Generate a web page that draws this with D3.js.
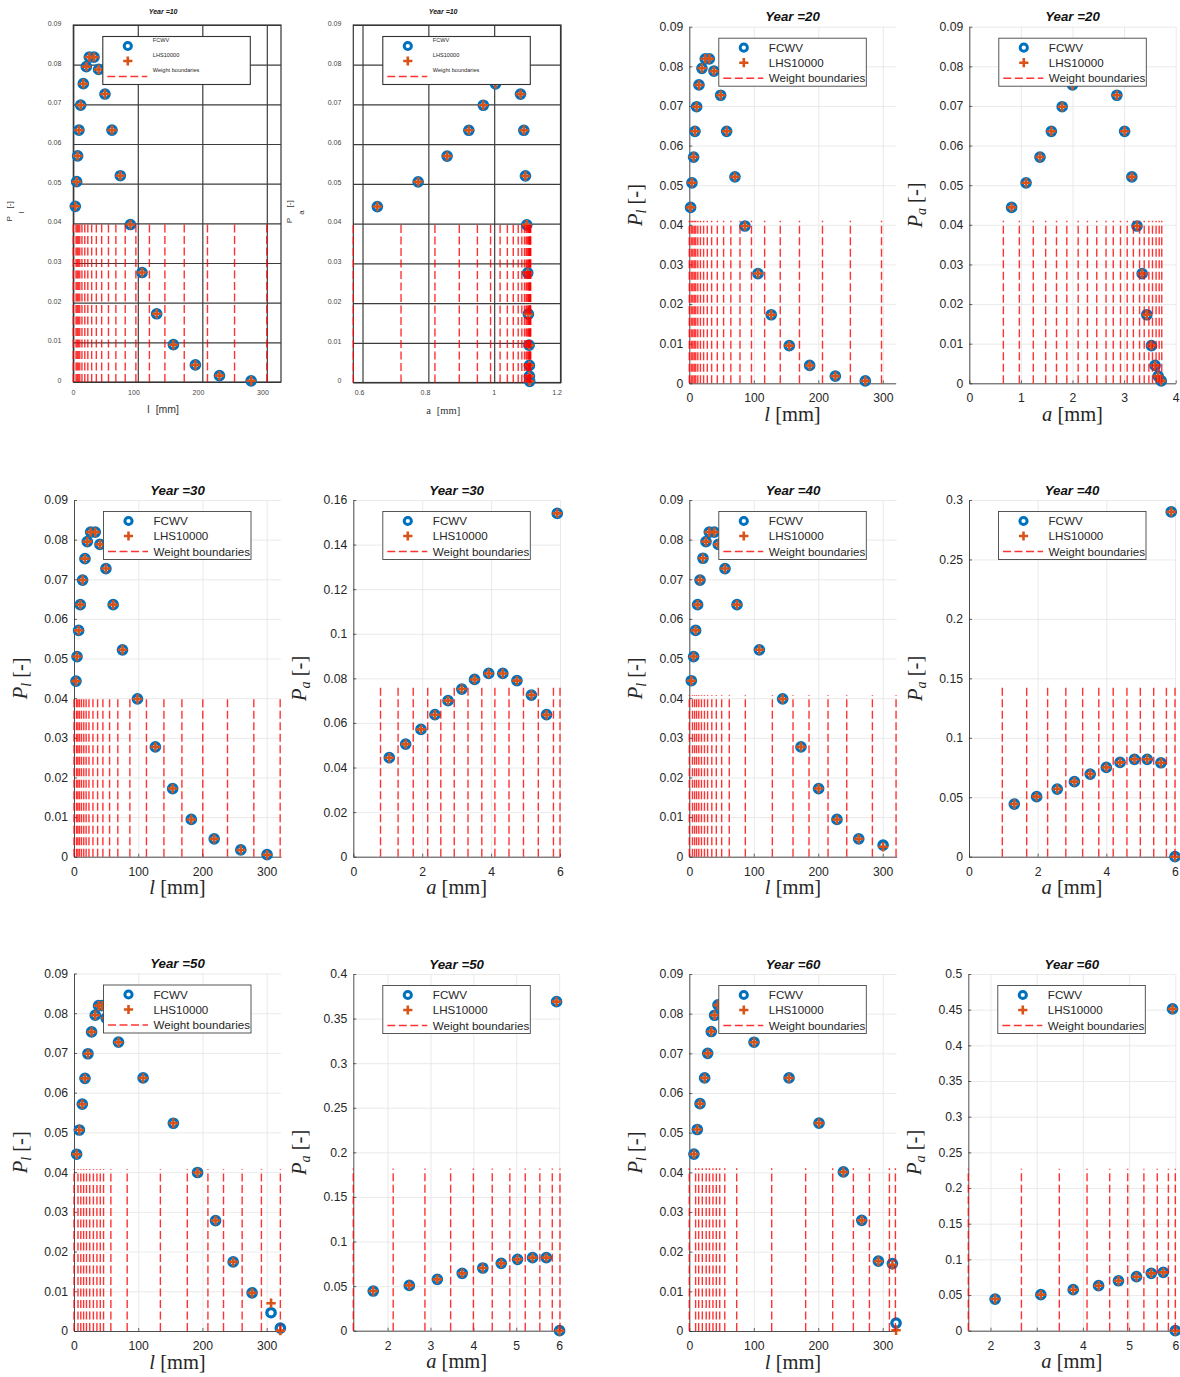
<!DOCTYPE html>
<html>
<head>
<meta charset="utf-8">
<script src="https://cdn.jsdelivr.net/npm/d3@7"></script>
<style>
  body { margin: 0; background: #fff; }
  svg { display: block; }
</style>
</head>
<body>
<div id="chart"></div>
<script>
// ---- values ----
const seriesNames = ["FCWV", "LHS10000", "Weight boundaries"];

// tick labels
const lTicks = [0, 100, 200, 300];
const pTicks = [0, 0.01, 0.02, 0.03, 0.04, 0.05, 0.06, 0.07, 0.08, 0.09];
const a10Ticks = [0.6, 0.8, 1, 1.2];
const a20Ticks = [0, 1, 2, 3, 4];
const a30Ticks = [0, 2, 4, 6];
const a50Ticks = [2, 3, 4, 5, 6];
const pa30Ticks = [0, 0.02, 0.04, 0.06, 0.08, 0.1, 0.12, 0.14, 0.16];
const pa40Ticks = [0, 0.05, 0.1, 0.15, 0.2, 0.25, 0.3];
const pa50Ticks = [0, 0.05, 0.1, 0.15, 0.2, 0.25, 0.3, 0.35, 0.4];
const pa60Ticks = [0, 0.05, 0.1, 0.15, 0.2, 0.25, 0.3, 0.35, 0.4, 0.45, 0.5];

// Year 10
const l10 = [3.1, 5.2, 6.7, 8.8, 11.4, 15.5, 20.2, 24.8, 32.1, 39.3, 49.1, 60, 72.9, 88.5, 106.6, 129.3, 155.2, 189.3, 226.6, 275.7];
const pl10 = [0.0443, 0.0505, 0.057, 0.0635, 0.0698, 0.0752, 0.0795, 0.0819, 0.0819, 0.0788, 0.0726, 0.0635, 0.052, 0.0397, 0.0276, 0.0172, 0.0094, 0.0043, 0.0016, 0.0003];
const a10 = [0.645, 0.769, 0.857, 0.923, 0.967, 1.004, 1.025, 1.045, 1.06, 1.072, 1.08, 1.09, 1.095, 1.099, 1.102, 1.104, 1.106, 1.107, 1.107, 1.108];
const pa10 = [0.0443, 0.0505, 0.057, 0.0635, 0.0698, 0.0752, 0.0795, 0.0819, 0.0819, 0.0788, 0.0726, 0.0635, 0.052, 0.0397, 0.0276, 0.0172, 0.0094, 0.0043, 0.0016, 0.0003];
const lBounds10 = [0, 4.2, 6, 7.7, 10, 13.4, 17.8, 22.5, 28.5, 35.7, 44, 54.5, 66, 80.5, 97, 118, 142, 172, 208, 250, 300];
const aBounds10 = [0.572, 0.717, 0.82, 0.894, 0.949, 0.989, 1.018, 1.04, 1.058, 1.073, 1.084, 1.092, 1.097, 1.1, 1.103, 1.105, 1.107, 1.108, 1.109, 1.11, 1.111];

// Year 20
const l20 = [2, 4.1, 6.7, 8.8, 11.4, 15, 19.6, 24.8, 31, 38.2, 48.6, 57.9, 70.8, 86.3, 106.5, 127, 155, 186.6, 226.4, 272.9];
const pl20 = [0.0444, 0.0506, 0.0571, 0.0636, 0.0698, 0.0753, 0.0795, 0.0819, 0.0819, 0.0788, 0.0727, 0.0636, 0.0521, 0.0397, 0.0277, 0.0173, 0.0095, 0.0045, 0.0018, 0.0006];
const a20 = [0.82, 1.1, 1.37, 1.59, 1.8, 2.0, 2.2, 2.38, 2.56, 2.72, 2.86, 3.01, 3.15, 3.25, 3.35, 3.44, 3.53, 3.6, 3.66, 3.72];
const pa20 = [0.0444, 0.0506, 0.0571, 0.0636, 0.0698, 0.0753, 0.0795, 0.0819, 0.0819, 0.0788, 0.0727, 0.0636, 0.0521, 0.0397, 0.0277, 0.0173, 0.0095, 0.0045, 0.0018, 0.0006];
const lBounds20 = [0, 3, 5.4, 7.7, 10, 13.2, 17.3, 22.2, 27.9, 34.6, 43.4, 53.2, 64.4, 78.6, 96.4, 116.8, 141, 170.8, 206.5, 249.7, 298];
const aBounds20 = [0.66, 0.97, 1.24, 1.48, 1.69, 1.89, 2.11, 2.29, 2.47, 2.65, 2.79, 2.93, 3.06, 3.18, 3.3, 3.39, 3.48, 3.55, 3.62, 3.68, 3.73];

// Year 30
const l30 = [3.1, 4.7, 7.2, 9.8, 13.4, 17.1, 20.7, 25.9, 33.1, 40.4, 49.7, 61, 75.5, 98.8, 126.7, 153.6, 182.6, 218.3, 259.7, 300.6];
const pl30 = [0.0443, 0.0505, 0.0571, 0.0636, 0.0698, 0.0752, 0.0795, 0.0819, 0.0819, 0.0788, 0.0727, 0.0636, 0.0522, 0.0398, 0.0277, 0.0172, 0.0094, 0.0045, 0.0017, 0.0005];
const a30 = [1.045, 1.52, 1.965, 2.37, 2.75, 3.15, 3.52, 3.93, 4.34, 4.75, 5.17, 5.61, 5.92];
const pa30 = [0.0444, 0.0505, 0.0571, 0.0637, 0.07, 0.0752, 0.0795, 0.0822, 0.0822, 0.079, 0.0725, 0.0637, 0.154];
const lBounds30 = [0, 3.9, 6, 8.5, 11.6, 15.2, 18.9, 23.3, 29.5, 36.8, 45, 55.4, 68.2, 87, 112.8, 140, 168, 200.5, 239, 280, 321];
const aBounds30 = [0.79, 1.3, 1.74, 2.16, 2.54, 2.93, 3.33, 3.73, 4.11, 4.52, 4.94, 5.37, 5.81, 6.0];

// Year 40
const l40 = [3.1, 6.7, 9.8, 12.9, 16.6, 21.2, 25.9, 31, 38.8, 45, 55.4, 74, 108.6, 144.8, 173.2, 200.6, 229, 262.8, 300.6];
const pl40 = [0.0444, 0.0505, 0.0571, 0.0636, 0.0698, 0.0753, 0.0795, 0.0819, 0.0819, 0.0788, 0.0727, 0.0636, 0.0522, 0.0398, 0.0277, 0.0172, 0.0094, 0.0045, 0.0029];
const plLhs40 = [0.0444, 0.0505, 0.0571, 0.0636, 0.0698, 0.0753, 0.0795, 0.0819, 0.0819, 0.0788, 0.0727, 0.0636, 0.0522, 0.0398, 0.0277, 0.0172, 0.0094, 0.0045, 0.0025];
const a40 = [1.32, 1.97, 2.57, 3.07, 3.53, 4.0, 4.4, 4.82, 5.19, 5.59, 5.89, 6.0];
const pa40 = [0.0443, 0.0505, 0.0569, 0.0631, 0.0695, 0.0751, 0.0793, 0.0819, 0.0819, 0.079, 0.29, 0];
const lBounds40 = [0, 4.9, 8.2, 11.3, 14.7, 18.9, 23.5, 28.4, 34.9, 41.9, 50.2, 62, 86.9, 128.8, 160.9, 185.7, 215.2, 244.2, 284, 320.7];
const aBounds40 = [0.97, 1.68, 2.29, 2.82, 3.31, 3.78, 4.2, 4.6, 4.99, 5.38, 5.75, 6.0];

// Year 50
const l50 = [4.1, 8.3, 12.9, 17.1, 21.7, 27.4, 33.1, 38.3, 43.5, 50, 69.3, 107.6, 154.7, 192.4, 220.4, 247.8, 277.3, 306.8, 321.3];
const pl50 = [0.0445, 0.0506, 0.0571, 0.0636, 0.0698, 0.0753, 0.0795, 0.0819, 0.0819, 0.0788, 0.0727, 0.0637, 0.0523, 0.0399, 0.0278, 0.0174, 0.0096, 0.0046, 0.0007];
const plLhs50 = [0.0445, 0.0506, 0.0571, 0.0636, 0.0698, 0.0753, 0.0795, 0.0819, 0.0819, 0.0788, 0.0727, 0.0637, 0.0523, 0.0399, 0.0278, 0.0174, 0.0096, 0.007, 0.0001];
const a50 = [1.665, 2.506, 3.16, 3.74, 4.22, 4.65, 5.03, 5.38, 5.7, 5.94, 6.01];
const pa50 = [0.0445, 0.0508, 0.0576, 0.0643, 0.0703, 0.0755, 0.08, 0.0819, 0.0819, 0.369, 0];
const lBounds50 = [0, 6.2, 10.6, 15, 19.4, 24.5, 30.2, 35.7, 40.9, 46, 57.4, 82.8, 134.5, 176.4, 208.5, 232.8, 261.8, 291.8, 321.3];
const aBounds50 = [1.2, 2.13, 2.87, 3.47, 4.0, 4.44, 4.85, 5.21, 5.55, 5.84, 6.02];

// Year 60
const l60 = [7.2, 12.4, 16.6, 23.8, 28.5, 34.1, 39.3, 44.5, 50, 60, 100.4, 154.7, 201.2, 239, 267.5, 293.3, 315, 320.7];
const pl60 = [0.0446, 0.0508, 0.0573, 0.0638, 0.07, 0.0755, 0.0796, 0.0822, 0.082, 0.0787, 0.0728, 0.0638, 0.0524, 0.0401, 0.0279, 0.0176, 0.017, 0.002];
const plLhs60 = [0.0446, 0.0508, 0.0573, 0.0638, 0.07, 0.0755, 0.0796, 0.0822, 0.082, 0.0787, 0.0728, 0.0638, 0.0524, 0.0401, 0.0279, 0.0176, 0.0167, 0.0002];
const a60 = [2.1, 3.09, 3.79, 4.34, 4.77, 5.16, 5.48, 5.74, 5.94, 6.0];
const pa60 = [0.0444, 0.0505, 0.0575, 0.0631, 0.07, 0.0757, 0.0804, 0.0818, 0.451, 0];
const lBounds60 = [0, 9.8, 14.5, 20.2, 26.2, 31.3, 36.7, 41.9, 47.2, 55, 73.5, 127.8, 180.5, 222.4, 254.5, 279.4, 310.4, 319.7];
const aBounds60 = [1.52, 2.67, 3.49, 4.09, 4.58, 4.97, 5.32, 5.61, 5.85, 6.0];

// height of the boundary lines
const lBoundTop = [0.0405, 0.041, 0.0405, 0.0408, 0.0407, 0.041];
const aBoundTop = [0.0405, 0.041, 0.077, 0.145, 0.182, 0.227];

// ---- layout ----
const sans = "'Liberation Sans', Arial, Helvetica, sans-serif";
const serif = "'Liberation Serif', 'Times New Roman', serif";
const blue = "#0072BD";
const orange = "#D95319";
const fmt = d => d === 0 ? "0" : String(+d.toFixed(3));

const panels = [
  { year: 10, kind: "l", old: true, xs: l10, fc: pl10, lhs: pl10, bounds: lBounds10, bTop: lBoundTop[0],
    xDom: [0, 322], yDom: [0, 0.09], xTicks: lTicks, yTicks: pTicks, box: [73.3, 281, 25, 382] },
  { year: 10, kind: "a", old: true, xs: a10, fc: pa10, lhs: pa10, bounds: aBounds10, bTop: aBoundTop[0],
    xDom: [0.572, 1.203], yDom: [0, 0.09], xTicks: a10Ticks, yTicks: pTicks, box: [353.3, 561, 25, 382.5] },
  { year: 20, kind: "l", xs: l20, fc: pl20, lhs: pl20, bounds: lBounds20, bTop: lBoundTop[1],
    xDom: [0, 320], yDom: [0, 0.09], xTicks: lTicks, yTicks: pTicks, box: [689.3, 895.7, 26.7, 383.3] },
  { year: 20, kind: "a", xs: a20, fc: pa20, lhs: pa20, bounds: aBounds20, bTop: aBoundTop[1],
    xDom: [0, 4], yDom: [0, 0.09], xTicks: a20Ticks, yTicks: pTicks, box: [969.3, 1175.7, 26.7, 383.3] },
  { year: 30, kind: "l", xs: l30, fc: pl30, lhs: pl30, bounds: lBounds30, bTop: lBoundTop[2],
    xDom: [0, 322.3], yDom: [0, 0.09], xTicks: lTicks, yTicks: pTicks, box: [74, 281, 500, 856.7] },
  { year: 30, kind: "a", xs: a30, fc: pa30, lhs: pa30, bounds: aBounds30, bTop: aBoundTop[2],
    xDom: [0, 6], yDom: [0, 0.16], xTicks: a30Ticks, yTicks: pa30Ticks, box: [353.3, 560, 500, 856.7] },
  { year: 40, kind: "l", xs: l40, fc: pl40, lhs: plLhs40, bounds: lBounds40, bTop: lBoundTop[3],
    xDom: [0, 321.7], yDom: [0, 0.09], xTicks: lTicks, yTicks: pTicks, box: [689.3, 896.7, 500, 856.7] },
  { year: 40, kind: "a", xs: a40, fc: pa40, lhs: pa40, bounds: aBounds40, bTop: aBoundTop[3],
    xDom: [0, 6], yDom: [0, 0.3], xTicks: a30Ticks, yTicks: pa40Ticks, box: [969, 1175, 500, 856.7] },
  { year: 50, kind: "l", xs: l50, fc: pl50, lhs: plLhs50, bounds: lBounds50, bTop: lBoundTop[4],
    xDom: [0, 322.3], yDom: [0, 0.09], xTicks: lTicks, yTicks: pTicks, box: [74, 281, 973.5, 1331] },
  { year: 50, kind: "a", xs: a50, fc: pa50, lhs: pa50, bounds: aBounds50, bTop: aBoundTop[4],
    xDom: [1.2, 6.02], yDom: [0, 0.4], xTicks: a50Ticks, yTicks: pa50Ticks, box: [353.3, 560, 974, 1330.7] },
  { year: 60, kind: "l", xs: l60, fc: pl60, lhs: plLhs60, bounds: lBounds60, bTop: lBoundTop[5],
    xDom: [0, 321.7], yDom: [0, 0.09], xTicks: lTicks, yTicks: pTicks, box: [689.3, 896.7, 974, 1331] },
  { year: 60, kind: "a", xs: a60, fc: pa60, lhs: pa60, bounds: aBounds60, bTop: aBoundTop[5],
    xDom: [1.52, 6.0], yDom: [0, 0.5], xTicks: a50Ticks, yTicks: pa60Ticks, box: [968.3, 1175.3, 974, 1330.7] }
];

const svg = d3.select("#chart")
  .append("svg")
  .attr("width", 1180)
  .attr("height", 1377);

svg.append("rect").attr("width", 1180).attr("height", 1377).attr("fill", "#fff");

function plusPath(cx, cy, s) {
  return `M${cx - s},${cy}H${cx + s}M${cx},${cy - s}V${cy + s}`;
}

function drawLegend(g, left, top, old) {
  const lg = g.append("g").attr("transform", `translate(${left + 29.5},${top + 11.5})`);
  lg.append("rect")
    .attr("width", 147.5).attr("height", 48)
    .attr("fill", "#fff")
    .attr("stroke", old ? "#333" : "#444")
    .attr("stroke-width", old ? 1.1 : 0.9);
  lg.append("circle").attr("cx", 25).attr("cy", 9.5).attr("r", 3.6)
    .attr("fill", "none").attr("stroke", blue).attr("stroke-width", 3);
  lg.append("path").attr("d", plusPath(25, 24.5, 4.6))
    .attr("stroke", orange).attr("stroke-width", 2.6);
  lg.append("line").attr("x1", 4.5).attr("x2", 44.5).attr("y1", 40).attr("y2", 40)
    .attr("stroke", "#ff0000").attr("stroke-opacity", 0.8)
    .attr("stroke-width", 1.4).attr("stroke-dasharray", "8,3.5");
  const rowsY = old ? [5.5, 20.5, 35] : [13.5, 28.5, 44];
  lg.selectAll("text.leg")
    .data(seriesNames)
    .enter()
    .append("text")
    .attr("class", "leg")
    .attr("x", 50)
    .attr("y", (d, i) => rowsY[i])
    .attr("font-family", sans)
    .attr("font-size", old ? 5.6 : 11.6)
    .attr("fill", "#262626")
    .text(d => d);
}

function drawPanel(p) {
  const [x0, x1, y0, y1] = p.box;
  const x = d3.scaleLinear().domain(p.xDom).range([x0, x1]);
  const y = d3.scaleLinear().domain(p.yDom).range([y1, y0]);
  const g = svg.append("g");
  const gridColor = p.old ? "#3d3d3d" : "#e4e4e4";
  const gridWidth = p.old ? 1.2 : 0.8;
  const axisColor = "#262626";

  // grid lines
  g.append("g")
    .attr("transform", `translate(0,${y1})`)
    .call(d3.axisBottom(x).tickValues(p.xTicks).tickSize(-(y1 - y0)).tickFormat(""))
    .call(a => a.select(".domain").remove())
    .selectAll("line").attr("stroke", gridColor).attr("stroke-width", gridWidth);
  g.append("g")
    .attr("transform", `translate(${x0},0)`)
    .call(d3.axisLeft(y).tickValues(p.yTicks).tickSize(-(x1 - x0)).tickFormat(""))
    .call(a => a.select(".domain").remove())
    .selectAll("line").attr("stroke", gridColor).attr("stroke-width", gridWidth);

  // axes
  const xAxis = g.append("g")
    .attr("transform", `translate(0,${y1})`)
    .call(d3.axisBottom(x).tickValues(p.xTicks).tickFormat(fmt)
      .tickSizeInner(p.old ? 0 : -3).tickSizeOuter(0).tickPadding(p.old ? 8 : 10.5));
  const yAxis = g.append("g")
    .attr("transform", `translate(${x0},0)`)
    .call(d3.axisLeft(y).tickValues(p.yTicks).tickFormat(fmt)
      .tickSizeInner(p.old ? 0 : -3).tickSizeOuter(0).tickPadding(p.old ? 12 : 6));
  [xAxis, yAxis].forEach(ax => {
    ax.select(".domain").attr("stroke", p.old ? "none" : axisColor).attr("stroke-width", 0.8);
    ax.selectAll(".tick line").attr("stroke", axisColor).attr("stroke-width", 0.7);
    ax.selectAll("text")
      .attr("font-family", sans)
      .attr("font-size", p.old ? 7 : 12.2)
      .attr("fill", p.old ? "#444" : axisColor);
  });
  if (p.old) {
    xAxis.selectAll("text").attr("text-anchor", "end").attr("dx", 1.5);
    yAxis.selectAll("text").attr("dy", "0.05em");
    g.append("rect")
      .attr("x", x0).attr("y", y0)
      .attr("width", x1 - x0).attr("height", y1 - y0)
      .attr("fill", "none").attr("stroke", "#333").attr("stroke-width", 1.2);
  }

  // title
  g.append("text")
    .attr("x", (x0 + x1) / 2 + (p.old ? -14 : 0))
    .attr("y", p.old ? y0 - 11 : y0 - 5.5)
    .attr("text-anchor", "middle")
    .attr("font-family", sans)
    .attr("font-size", p.old ? 7 : 13.3)
    .attr("font-weight", "bold")
    .attr("font-style", "italic")
    .attr("fill", "#111")
    .text(`Year =${p.year}`);

  // axis labels
  if (p.old) {
    const yl = g.append("text")
      .attr("transform", `translate(${x0 - 61},${(y0 + y1) / 2 + 8}) rotate(-90)`)
      .attr("text-anchor", "middle")
      .attr("font-family", sans)
      .attr("font-size", 8)
      .attr("fill", "#333");
    yl.append("tspan").text("P");
    yl.append("tspan").attr("dy", 12).attr("dx", 3).text(p.kind);
    yl.append("tspan").attr("dy", -12).attr("dx", 3).text("[-]");
    const xl = g.append("text")
      .attr("x", (x0 + x1) / 2 - 14)
      .attr("y", y1 + 31)
      .attr("text-anchor", "middle")
      .attr("font-family", p.kind === "a" ? serif : sans)
      .attr("font-size", 10.5)
      .attr("fill", "#333");
    xl.append("tspan").text(p.kind);
    xl.append("tspan").attr("dx", 6).text("[mm]");
  } else {
    const yl = g.append("text")
      .attr("transform", `translate(${x0 - 47.5},${(y0 + y1) / 2}) rotate(-90)`)
      .attr("text-anchor", "middle")
      .attr("font-family", serif)
      .attr("font-size", 20.5)
      .attr("fill", "#262626");
    yl.append("tspan").attr("font-style", "italic").text("P");
    yl.append("tspan").attr("font-style", "italic").attr("font-size", 14).attr("dy", 4).text(p.kind);
    yl.append("tspan").attr("dy", -4).text(" [-]");
    const xl = g.append("text")
      .attr("x", (x0 + x1) / 2)
      .attr("y", y1 + 37.5)
      .attr("text-anchor", "middle")
      .attr("font-family", serif)
      .attr("font-size", 20.5)
      .attr("fill", "#262626");
    xl.append("tspan").attr("font-style", "italic").text(p.kind);
    xl.append("tspan").text(" [mm]");
  }

  // FCWV circles
  g.append("g").selectAll("circle")
    .data(p.xs.map((v, i) => [v, p.fc[i]]))
    .enter()
    .append("circle")
    .attr("cx", d => x(d[0]))
    .attr("cy", d => y(d[1]))
    .attr("r", 4.2)
    .attr("fill", "none")
    .attr("stroke", blue)
    .attr("stroke-width", 3.3);

  // LHS10000 pluses
  g.append("g").selectAll("path")
    .data(p.xs.map((v, i) => [v, p.lhs[i]]))
    .enter()
    .append("path")
    .attr("d", d => plusPath(x(d[0]), y(d[1]), 4.7))
    .attr("stroke", orange)
    .attr("stroke-width", 2.6);

  // weight boundaries
  g.append("g").selectAll("line")
    .data(p.bounds)
    .enter()
    .append("line")
    .attr("x1", d => x(d)).attr("x2", d => x(d))
    .attr("y1", y(0)).attr("y2", y(p.bTop))
    .attr("stroke", "#ff0000")
    .attr("stroke-opacity", 0.8)
    .attr("stroke-width", 1.4)
    .attr("stroke-dasharray", "8,3.5");

  drawLegend(g, x0, y0, p.old);
}

panels.forEach(drawPanel);
</script>
</body>
</html>
